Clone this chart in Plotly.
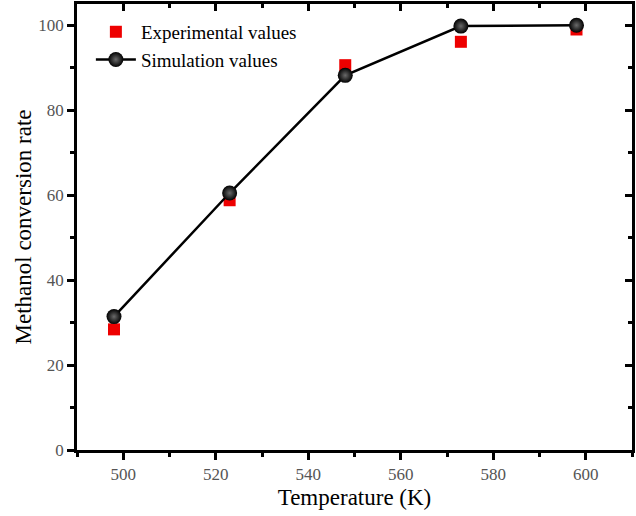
import plotly.graph_objects as go

temps = [498, 523, 548, 573, 598]
experimental = [28.4, 58.8, 90.6, 96.1, 99.0]
simulation = [31.4, 60.5, 88.2, 99.8, 100.0]

x_ticks = [500, 520, 540, 560, 580, 600]
y_ticks = [0, 20, 40, 60, 80, 100]

serif = "Liberation Serif, Times New Roman, serif"

fig = go.Figure()
fig.add_trace(go.Scatter(
    x=temps, y=experimental, mode="markers", name="Experimental values",
    marker=dict(symbol="square", size=12, color="#ee0000", line=dict(width=0)),
))
fig.add_trace(go.Scatter(
    x=temps, y=simulation, mode="lines+markers", name="Simulation values",
    line=dict(color="black", width=2.5),
    marker=dict(symbol="circle", size=15, color="black",
                gradient=dict(type="radial", color="#6a6a6a"),
                line=dict(width=0)),
))
# invisible trace for the mirrored axes
fig.add_trace(go.Scatter(x=[temps[0]], y=[simulation[0]], xaxis="x2", yaxis="y2",
                         mode="markers", marker=dict(opacity=0), showlegend=False,
                         hoverinfo="skip"))

axis_common = dict(showgrid=False, zeroline=False, showline=True, linecolor="black",
                   linewidth=2.5, tickcolor="black", tickwidth=2.5)

fig.update_layout(
    width=636, height=516,
    margin=dict(l=77, r=4, t=4, b=66),
    paper_bgcolor="white", plot_bgcolor="white",
    font=dict(family=serif, size=17, color="#444"),
    xaxis=dict(range=[490, 610], tickvals=x_ticks, ticks="outside", ticklen=7,
               minor=dict(dtick=10, tick0=490, ticks="outside", ticklen=4,
                          tickcolor="black", tickwidth=2.5),
               title=dict(text="Temperature (K)", font=dict(size=23, color="black"),
                          standoff=6),
               tickfont=dict(size=17, color="#555"), **axis_common),
    yaxis=dict(range=[0, 105], tickvals=y_ticks, ticks="outside", ticklen=7,
               minor=dict(dtick=10, tick0=0, ticks="outside", ticklen=4,
                          tickcolor="black", tickwidth=2.5),
               title=dict(text="Methanol conversion rate", font=dict(size=23, color="black"),
                          standoff=1),
               tickfont=dict(size=17, color="#555"), **axis_common),
    xaxis2=dict(range=[490, 610], overlaying="x", side="top", tickvals=x_ticks,
                ticks="inside", ticklen=7, showticklabels=False,
                minor=dict(dtick=10, tick0=490, ticks="inside", ticklen=4,
                           tickcolor="black", tickwidth=2.5),
                **axis_common),
    yaxis2=dict(range=[0, 105], overlaying="y", side="right", tickvals=y_ticks,
                ticks="inside", ticklen=7, showticklabels=False,
                minor=dict(dtick=10, tick0=0, ticks="inside", ticklen=4,
                           tickcolor="black", tickwidth=2.5),
                **axis_common),
    legend=dict(x=0.025, y=0.98, xanchor="left", yanchor="top",
                bgcolor="rgba(0,0,0,0)", font=dict(size=19, color="black"),
                tracegroupgap=0, itemwidth=40),
    showlegend=True,
)

fig.write_html("out.html")
